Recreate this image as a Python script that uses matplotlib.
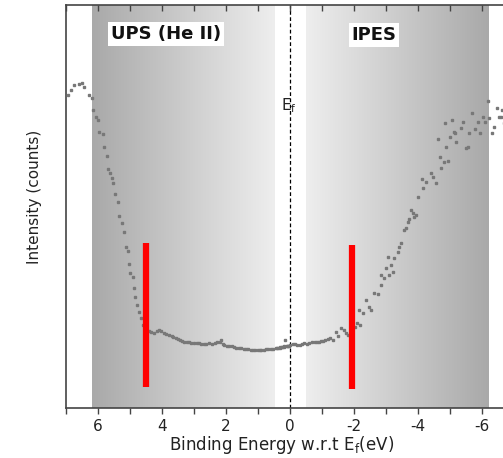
import numpy as np
import matplotlib
matplotlib.use("Agg")
import matplotlib.pyplot as plt
from matplotlib.colors import LinearSegmentedColormap

# ---------------- data ----------------
ups_energy = [6.94, 6.85, 6.75, 6.6, 6.5, 6.44, 6.28, 6.19, 6.16, 6.06, 6.0, 5.97,
              5.84, 5.8, 5.72, 5.69, 5.63, 5.56, 5.53, 5.47, 5.38, 5.34, 5.25, 5.19,
              5.13, 5.06, 5.03, 5.0, 4.91, 4.88, 4.84, 4.78, 4.72, 4.66, 4.6, 4.5,
              4.42, 4.34, 4.25, 4.17, 4.1, 4.02, 3.94, 3.86, 3.78, 3.7, 3.65, 3.56,
              3.5, 3.44, 3.38, 3.31, 3.23, 3.15, 3.08, 3.0, 2.92, 2.85, 2.78, 2.7,
              2.62, 2.53, 2.45, 2.35, 2.28, 2.2, 2.15, 2.1, 2.05, 1.98, 1.9, 1.82,
              1.75, 1.68, 1.6, 1.52, 1.45, 1.38, 1.3, 1.22, 1.15, 1.08, 1.0, 0.95,
              0.9, 0.82, 0.75, 0.68, 0.6, 0.52, 0.45, 0.38, 0.3, 0.25, 0.2, 0.15,
              0.1, 0.05]
ups_intensity = [77.7, 78.9, 80.1, 80.4, 80.6, 79.7, 77.7, 76.9, 73.9, 72.2, 71.5, 68.5,
                 68.0, 64.8, 62.5, 59.3, 58.3, 57.1, 55.8, 53.1, 51.1, 47.6, 45.9, 43.7,
                 40.0, 39.0, 35.7, 33.5, 32.5, 29.8, 27.5, 25.6, 23.8, 22.3, 20.6, 19.6,
                 19.2, 18.9, 18.6, 19.0, 19.4, 19.0, 18.6, 18.4, 18.1, 17.9, 17.6, 17.4,
                 17.2, 16.9, 16.7, 16.4, 16.5, 16.4, 16.2, 16.1, 16.2, 16.1, 15.9, 15.9,
                 16.0, 16.1, 16.0, 16.1, 16.3, 16.4, 16.8, 16.0, 15.6, 15.5, 15.4, 15.3,
                 15.1, 15.0, 14.9, 14.8, 14.6, 14.7, 14.6, 14.5, 14.4, 14.5, 14.4, 14.3,
                 14.4, 14.5, 14.6, 14.6, 14.6, 14.7, 14.9, 15.0, 15.1, 15.2, 15.4, 16.9,
                 15.3, 15.4]

ipes_energy = [0.4, 0.32, 0.25, 0.18, 0.1, 0.03, 0.0, -0.08, -0.15, -0.22, -0.3, -0.38,
               -0.45, -0.52, -0.6, -0.7, -0.78, -0.85, -0.92, -0.97, -1.04, -1.1, -1.18,
               -1.25, -1.34, -1.44, -1.5, -1.6, -1.7, -1.75, -1.82, -1.95, -2.03, -2.1,
               -2.2, -2.16, -2.28, -2.38, -2.47, -2.53, -2.63, -2.75, -2.84, -2.84, -2.94,
               -3.0, -3.09, -3.16, -3.22, -3.06, -3.25, -3.38, -3.41, -3.47, -3.56, -3.63,
               -3.69, -3.72, -3.78, -3.84, -3.88, -3.94, -4.0, -4.16, -4.25, -4.13, -4.41,
               -4.56, -4.47, -4.72, -4.69, -4.81, -4.94, -4.88, -4.63, -5.0, -5.16, -5.19,
               -5.5, -5.56, -4.84, -5.06, -5.13, -5.41, -5.34, -5.6, -5.7, -5.78, -5.88,
               -5.94, -6.03, -6.09, -6.19, -6.22, -6.31, -6.38, -6.47, -6.53, -6.63, -6.69,
               -6.59]
ipes_intensity = [14.9, 15.0, 15.1, 15.2, 15.4, 15.5, 15.6, 15.8, 15.9, 15.7, 15.6, 15.9,
                  16.1, 16.0, 16.1, 16.4, 16.3, 16.4, 16.5, 16.6, 16.7, 16.9, 17.1,
                  17.4, 16.9, 18.9, 17.9, 19.9, 19.4, 18.6, 18.1, 19.4, 20.2, 21.1,
                  20.6, 24.3, 23.6, 26.8, 25.1, 24.3, 28.5, 28.3, 30.5, 33.0, 32.3,
                  34.7, 33.0, 35.5, 33.7, 37.5, 37.2, 38.7, 40.0, 40.9, 44.2, 44.7,
                  46.2, 46.9, 49.1, 48.4, 47.4, 47.9, 52.4, 54.6, 56.1, 56.8, 58.3,
                  55.8, 57.3, 59.6, 62.3, 61.0, 61.3, 64.8, 66.7, 67.2, 68.2, 66.0,
                  64.5, 64.8, 70.7, 71.5, 68.5, 71.0, 69.5, 68.2, 73.2, 69.2, 71.0,
                  68.2, 72.2, 71.0, 76.2, 72.0, 68.2, 69.7, 74.4, 72.2, 73.9, 70.7,
                  72.2]

ups_band = [6.2, 0.5]
ipes_band = [-0.5, -6.2]
onset_energy = [4.5, -1.94]
onset_low = [5.2, 4.7]
onset_high = [40.9, 40.4]

major_ticks = [6, 4, 2, 0, -2, -4, -6]
minor_ticks = [7, 5, 3, 1, -1, -3, -5, -7]
tick_labels = ["6", "4", "2", "0", "-2", "-4", "-6"]

# ---------------- figure ----------------
fig = plt.figure(figsize=(5.03, 4.58), dpi=100)
ax = fig.add_axes([66/503, 50/458, 448/503, 403/458])

grad = np.linspace(0, 1, 256).reshape(1, -1)
cmap = LinearSegmentedColormap.from_list("g", ["#a9a9a9", "#eeeeee"])
ax.imshow(grad, extent=[ups_band[0], ups_band[1], 0, 100], aspect="auto",
          cmap=cmap, zorder=0, interpolation="bilinear")
ax.imshow(grad, extent=[ipes_band[0], ipes_band[1], 0, 100], aspect="auto",
          cmap=cmap.reversed(), zorder=0, interpolation="bilinear")
ax.set_xlim(7, -7)
ax.set_ylim(0, 100)

ax.axvline(0, color="black", lw=0.9, ls=(0, (3, 2)), zorder=1)

mk = dict(ls="none", marker="s", ms=2.1, color="#787878", mec="#787878", zorder=3)
ax.plot(ups_energy, ups_intensity, **mk)
ax.plot(ipes_energy, ipes_intensity, **mk)

for xe, lo, hi in zip(onset_energy, onset_low, onset_high):
    ax.plot([xe, xe], [lo, hi], color="#ff0000", lw=4.5, solid_capstyle="butt", zorder=4)

ax.text(3.875, 92.8, "UPS (He II)", ha="center", va="center", fontsize=13,
        fontweight="bold", color="#111111",
        bbox=dict(facecolor="white", edgecolor="none", pad=2), zorder=5)
ax.text(-2.63, 92.6, "IPES", ha="center", va="center", fontsize=13,
        fontweight="bold", color="#111111",
        bbox=dict(facecolor="white", edgecolor="none", pad=2), zorder=5)
ax.text(0.05, 75, r"E$_\mathregular{f}$", ha="center", va="center", fontsize=11,
        color="#222222", zorder=5)

# axes styling
for s in ["left", "bottom", "top"]:
    ax.spines[s].set_color("#444444")
    ax.spines[s].set_linewidth(1.2)
ax.spines["right"].set_visible(False)
ax.set_yticks([])
ax.set_xticks(major_ticks)
ax.set_xticklabels(tick_labels)
ax.set_xticks(minor_ticks, minor=True)
ax.tick_params(axis="x", which="both", direction="out", length=4, width=1,
               color="#444444", labelsize=11, labelcolor="#222222", pad=4)

top = ax.twiny()
top.set_xlim(ax.get_xlim())
top.set_xticks(major_ticks)
top.set_xticks(minor_ticks, minor=True)
top.set_xticklabels([])
top.tick_params(axis="x", which="both", direction="in", length=4, width=1,
                color="#444444", top=True, bottom=False, labeltop=False)
for s in top.spines.values():
    s.set_visible(False)

fig.text(282/503, 1 - 445/458, r"Binding Energy w.r.t E$_\mathregular{f}$(eV)",
         ha="center", va="center", fontsize=12, color="#222222")
fig.text(35/503, 1 - 197/458, "Intensity (counts)", ha="center", va="center",
         rotation=90, fontsize=11, color="#222222")

fig.savefig("out.png", dpi=100)
